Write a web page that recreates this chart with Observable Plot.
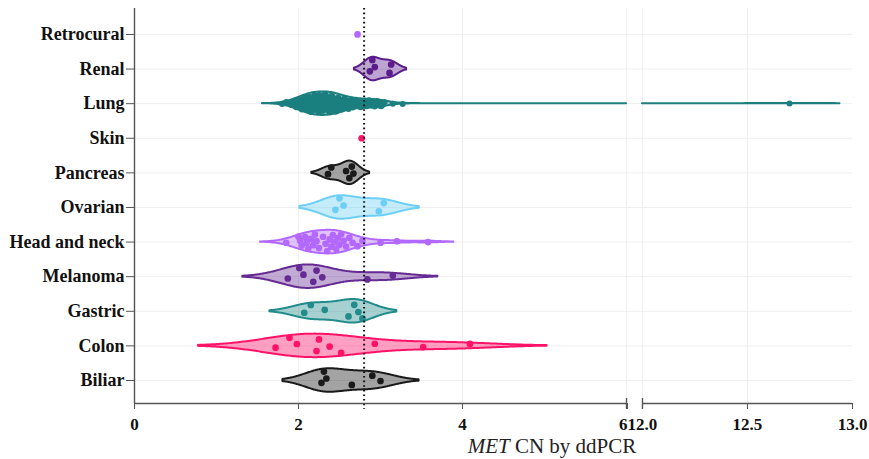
<!DOCTYPE html>
<html>
<head>
<meta charset="utf-8">
<script src="https://cdn.jsdelivr.net/npm/d3@7"></script>
<script src="https://cdn.jsdelivr.net/npm/@observablehq/plot@0.6"></script>
<style>
  html, body { margin: 0; padding: 0; background: #ffffff; }
  #chart svg { display: block; }
</style>
</head>
<body>
<div id="chart"></div>
<script>
// ---------- DATA (bottom to top) ----------
const categories = ["Biliar", "Colon", "Gastric", "Melanoma", "Head and neck", "Ovarian", "Pancreas", "Skin", "Lung", "Renal", "Retrocural"];

const biliar = [2.28, 2.31, 2.34, 2.65, 2.90, 3.00];
const colon = [1.72, 1.89, 1.98, 2.22, 2.25, 2.38, 2.52, 2.93, 3.52, 4.09];
const gastric = [2.07, 2.15, 2.32, 2.61, 2.68, 2.73, 2.78];
const melanoma = [1.87, 2.01, 2.06, 2.18, 2.22, 2.29, 2.84, 3.15];
const headAndNeck = [1.85, 2.00, 2.02, 2.04, 2.08, 2.10, 2.12, 2.15, 2.18, 2.20, 2.22, 2.25, 2.30, 2.33, 2.35, 2.38, 2.40, 2.42, 2.44, 2.46, 2.48, 2.50, 2.52, 2.55, 2.58, 2.62, 2.66, 2.72, 2.78, 3.00, 3.20, 3.58];
const ovarian = [2.45, 2.50, 2.55, 2.98, 3.04];
const pancreas = [2.36, 2.40, 2.58, 2.62, 2.65, 2.67];
const skin = [2.77];
const lung = [
  1.80, 1.85, 1.89, 1.92, 1.94, 1.96, 1.97, 1.99,
  2.00, 2.00, 2.01, 2.02, 2.02, 2.03, 2.04, 2.05, 2.05, 2.06, 2.07, 2.07, 2.08, 2.09, 2.09, 2.10, 2.10,
  2.11, 2.11, 2.12, 2.12, 2.13, 2.13, 2.14, 2.14, 2.15, 2.15, 2.15, 2.16, 2.16, 2.16, 2.17, 2.17,
  2.18, 2.19, 2.20, 2.21, 2.22, 2.23, 2.24, 2.25, 2.26, 2.27, 2.28, 2.29, 2.30, 2.31, 2.32, 2.33, 2.34, 2.35,
  2.36, 2.37, 2.38, 2.39, 2.40, 2.41, 2.42, 2.43, 2.44, 2.45, 2.46, 2.47, 2.48, 2.49, 2.50, 2.51, 2.52,
  2.18, 2.19, 2.20, 2.21, 2.22, 2.23, 2.24, 2.25, 2.26, 2.27, 2.28, 2.29, 2.30, 2.31, 2.32, 2.33, 2.34, 2.35,
  2.36, 2.37, 2.38, 2.39, 2.40, 2.41, 2.42, 2.43, 2.44, 2.45, 2.46, 2.47, 2.48, 2.49, 2.50, 2.51, 2.52,
  2.25, 2.30, 2.35, 2.40, 2.45,
  2.53, 2.54, 2.55, 2.56, 2.57, 2.58, 2.59, 2.60, 2.61,
  2.62, 2.63, 2.64, 2.65, 2.66, 2.68, 2.69, 2.70, 2.71, 2.73, 2.74, 2.75, 2.76, 2.78, 2.79, 2.80, 2.81, 2.83, 2.84,
  2.85, 2.86, 2.88, 2.89, 2.90, 2.91, 2.93, 2.94, 2.95, 2.96, 2.97, 2.98, 2.99, 3.00, 3.01, 3.02, 3.03, 3.05,
  3.15, 3.27, 12.70
];
const renal = [2.87, 2.90, 2.93, 3.11, 3.13];
const retrocural = [2.72];

const seriesValues = [biliar, colon, gastric, melanoma, headAndNeck, ovarian, pancreas, skin, lung, renal, retrocural];
const seriesColors = ["#1a1a1a", "#ff1268", "#228b8b", "#652a93", "#b368ff", "#6dcff6", "#1a1a1a", "#ff1268", "#1b7f7f", "#5b1c8c", "#b368ff"];

const threshold = 2.8;                     // dotted reference line
const xTicks = [0, 2, 4, 6, 12, 12.5, 13];
const xTickLabels = ["0", "2", "4", "6", "12.0", "12.5", "13.0"];
const xBreak = [6, 12];                    // axis break
const xEnd = 13;
const axisSegments = [[0, 6], [12, 13]];
const xGrid = [2, 4, 6, 12, 12.5];

// ---------- broken-axis mapping (left 0–6, right 12–13 stretched) ----------
const gapUnits = 0.195;
const rightStretch = 2.561;
function brk(v) {
  if (v <= xBreak[0]) return v;
  if (v >= xBreak[1]) return xBreak[0] + gapUnits + (v - xBreak[1]) * rightStretch;
  return xBreak[0] + gapUnits * (v - xBreak[0]) / (xBreak[1] - xBreak[0]);
}

// ---------- KDE (Silverman bandwidth, soft span = 2 bandwidths) ----------
const halfWidth = 0.34;
function hazen(sorted, p) {
  const n = sorted.length;
  let pos = Math.max(0, Math.min(n - 1, n * p - 0.5));
  const i = Math.floor(pos), t = pos - i;
  return i + 1 < n ? sorted[i] * (1 - t) + sorted[i + 1] * t : sorted[i];
}
function silverman(vals) {
  const s = vals.slice().sort(d3.ascending);
  const sd = d3.deviation(s);
  const iqr = hazen(s, 0.75) - hazen(s, 0.25);
  let a = Math.min(sd, iqr / 1.349);
  if (!(a > 0)) a = sd || iqr || 0;
  return 1.059 * a * Math.pow(s.length, -0.2);
}
function kde(vals, bw) {
  return x => { let s = 0; for (const v of vals) { const u = (x - v) / bw; s += Math.exp(-0.5 * u * u); } return s; };
}

const violinRows = [];
const pointRows = [];
seriesValues.forEach((vals, i) => {
  const cat = categories[i];
  const color = seriesColors[i];
  if (vals.length < 2) {
    vals.forEach(v => pointRows.push({cat, x: brk(v), y: i, color}));
    return;
  }
  const bw = silverman(vals);
  const f = kde(vals, bw);
  const lo = d3.min(vals) - 2 * bw, hi = d3.max(vals) + 2 * bw;
  const step = Math.min(bw / 8, (hi - lo) / 200);
  let xs = d3.range(lo, hi, step).concat([hi]);
  xBreak.forEach(b => { if (b > lo && b < hi) xs.push(b); });
  xs = xs.filter(x => !(x > xBreak[0] && x < xBreak[1])).sort(d3.ascending);
  const dens = xs.map(f);
  const maxD = d3.max(dens);
  xs.forEach((x, k) => {
    const w = dens[k] / maxD * halfWidth;
    violinRows.push({key: cat + (x <= xBreak[0] ? "-a" : "-b"), x: brk(x), y1: i - w, y2: i + w, color});
  });
  vals.forEach((v, j) => {
    const frac = (j * 0.6180339887 + 0.37) % 1;
    const off = (frac * 2 - 1) * 0.8 * halfWidth * f(v) / maxD;
    pointRows.push({cat, x: brk(v), y: i + off, color, small: vals.length > 40});
  });
});

// ---------- PLOT ----------
const W = 869, H = 459;
const padLeft = 134, plotRight = 852, plotTop = 8, plotBottom = 403;
const yMin = -0.665, yMax = 10.75;
const serif = "'Liberation Serif', 'Times New Roman', serif";
const tickIdxLeft = xTicks.map((t, k) => k).filter(k => xTicks[k] !== xBreak[0]);
const tickIdxBreak = xTicks.map((t, k) => k).filter(k => xTicks[k] === xBreak[0]);

const chart = Plot.plot({
  width: W,
  height: H,
  marginLeft: padLeft,
  marginRight: W - plotRight,
  marginTop: plotTop,
  marginBottom: H - plotBottom,
  style: {fontFamily: serif, background: "#ffffff"},
  x: {domain: [0, brk(xEnd)]},
  y: {domain: [yMin, yMax]},
  color: {type: "identity"},
  marks: [
    Plot.gridY({ticks: d3.range(categories.length), stroke: "#efefef", strokeOpacity: 1}),
    Plot.gridX({ticks: xGrid.map(brk), stroke: "#efefef", strokeOpacity: 1}),
    Plot.areaY(violinRows, {x: "x", y1: "y1", y2: "y2", z: "key", fill: "color", fillOpacity: 0.4, stroke: "color", strokeWidth: 2, strokeLinejoin: "round"}),
    Plot.dot(pointRows, {x: "x", y: "y", fill: "color", r: d => d.small ? 2.5 : 3.1, stroke: null}),
    Plot.ruleX([brk(threshold)], {stroke: "#111", strokeWidth: 2, strokeDasharray: "1.6,3", insetBottom: -6}),
    // y axis line and ticks
    Plot.ruleX([0], {stroke: "#555", strokeWidth: 1.4}),
    Plot.axisY({ticks: d3.range(categories.length), tickFormat: i => categories[i], tickSize: 8, tickPadding: 2,
      fontSize: 18, fontWeight: "bold", stroke: "#555", fill: "#111", label: null}),
    // x axis with break
    Plot.ruleY(axisSegments, {x1: d => brk(d[0]), x2: d => brk(d[1]), y: yMin, stroke: "#555", strokeWidth: 1.4}),
    Plot.ruleX(xBreak.map(brk), {y1: yMin, y2: yMin, insetTop: -5, insetBottom: -6, stroke: "#555", strokeWidth: 1.4}),
    Plot.axisX({ticks: tickIdxLeft.map(k => brk(xTicks[k])), tickFormat: (d, k) => xTickLabels[tickIdxLeft[k]], tickSize: 6, tickPadding: 8,
      fontSize: 17, fontWeight: "bold", stroke: "#555", fill: "#111", label: null}),
    Plot.axisX({ticks: tickIdxBreak.map(k => brk(xTicks[k])), tickFormat: (d, k) => xTickLabels[tickIdxBreak[k]], tickSize: 6, tickPadding: 8,
      fontSize: 17, fontWeight: "bold", stroke: "#555", fill: "#111", label: null, textAnchor: "end", dx: 1})
  ]
});

// x-axis title with italic gene name
const svgSel = d3.select(chart);
const titleText = svgSel.append("text")
  .attr("x", 552)
  .attr("y", 453)
  .attr("text-anchor", "middle")
  .attr("font-family", serif)
  .attr("font-size", 21)
  .attr("fill", "#222");
titleText.append("tspan").attr("font-style", "italic").text("MET");
titleText.append("tspan").text(" CN by ddPCR");

document.getElementById("chart").appendChild(chart);
</script>
</body>
</html>
